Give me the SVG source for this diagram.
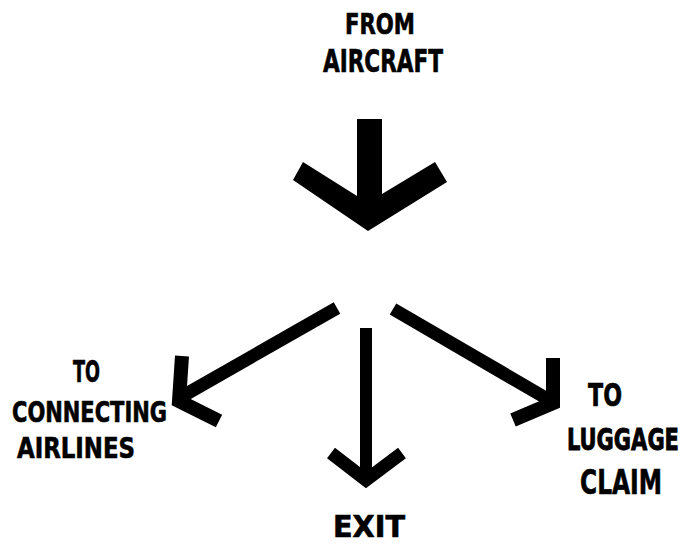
<svg xmlns="http://www.w3.org/2000/svg" width="687" height="545" viewBox="0 0 687 545">
<style>
.t{font-family:"DejaVu Sans Condensed","Liberation Sans Narrow","Liberation Sans",sans-serif;font-weight:bold;fill:#000;stroke:#000;stroke-width:0.6}
.s{fill:none;stroke:#000;stroke-linecap:butt;stroke-linejoin:miter;stroke-miterlimit:10}
</style>
<rect width="687" height="545" fill="#fff"/>
<g id="from-aircraft">
<text class="t" x="345" y="34" font-size="28" textLength="70" lengthAdjust="spacingAndGlyphs">FROM</text>
<text class="t" x="323" y="72" font-size="32" textLength="120" lengthAdjust="spacingAndGlyphs">AIRCRAFT</text>
</g>
<g id="to-connecting-airlines">
<text class="t" x="73" y="382" font-size="30" textLength="27" lengthAdjust="spacingAndGlyphs">TO</text>
<text class="t" x="12" y="422" font-size="28" textLength="155" lengthAdjust="spacingAndGlyphs">CONNECTING</text>
<text class="t" x="17" y="458" font-size="29" textLength="118" lengthAdjust="spacingAndGlyphs">AIRLINES</text>
</g>
<g id="to-luggage-claim">
<text class="t" x="588" y="406" font-size="32" textLength="34" lengthAdjust="spacingAndGlyphs">TO</text>
<text class="t" x="567" y="321.4" font-size="22" textLength="112" lengthAdjust="spacingAndGlyphs" transform="scale(1,1.4)">LUGGAGE</text>
<text class="t" x="580" y="494" font-size="34" textLength="82" lengthAdjust="spacingAndGlyphs">CLAIM</text>
</g>
<g id="exit">
<text class="t" x="333" y="537" font-size="30" textLength="72" lengthAdjust="spacingAndGlyphs">EXIT</text>
</g>
<g id="connectors">
<polygon points="293,180 368,231 447,182 435,162 382,194 382,119 357,119 357,196 303,162" fill="#000"/>
<line class="s" x1="337" y1="308" x2="181" y2="397" stroke-width="13"/>
<polyline class="s" points="182,356 179,401 219,421" stroke-width="14"/>
<line class="s" x1="393" y1="309" x2="551" y2="401" stroke-width="13"/>
<polyline class="s" points="553,358 553,403 513,420" stroke-width="14"/>
<line class="s" x1="366" y1="328" x2="366" y2="480" stroke-width="12"/>
<polyline class="s" points="331,453 366,480 402,453" stroke-width="13"/>
</g>
</svg>
